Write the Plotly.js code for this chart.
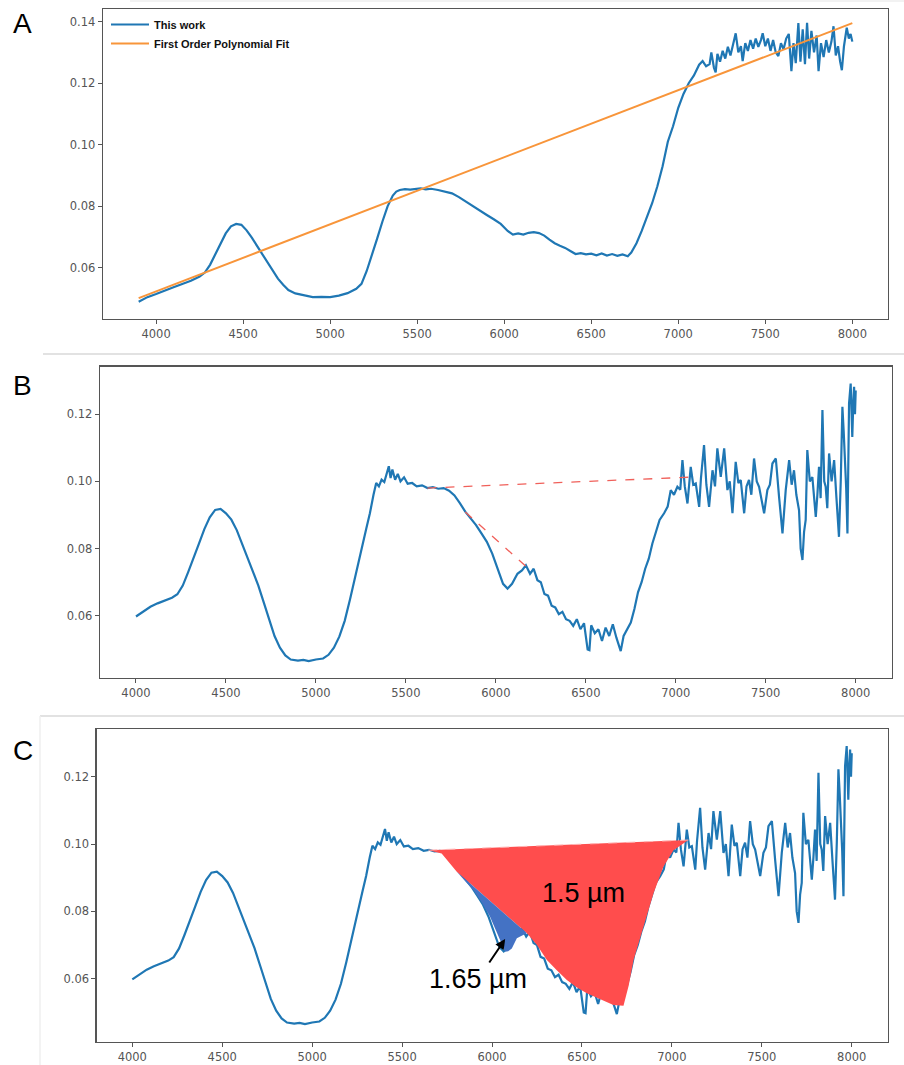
<!DOCTYPE html>
<html>
<head>
<meta charset="utf-8">
<script src="https://cdn.plot.ly/plotly-3.0.1.min.js"></script>
<style>
html,body{margin:0;padding:0;background:#fff;}
#chart{width:904px;height:1065px;}
</style>
</head>
<body>
<div id="chart"></div>
<script>
// ---------- Panel A: spectrum + first-order fit ----------
const specA_x = [3900,3950,4000,4050,4100,4150,4200,4250,4280,4310,4340,4370,4400,4430,4460,4490,4520,4550,4580,4610,4640,4670,4700,4730,4760,4800,4850,4900,4950,5000,5050,5100,5150,5180,5210,5240,5270,5300,5330,5360,5380,5400,5430,5460,5490,5520,5550,5580,5620,5660,5700,5740,5780,5820,5860,5900,5940,5980,6020,6050,6080,6110,6140,6170,6200,6230,6260,6290,6320,6350,6380,6410,6440,6470,6500,6530,6560,6590,6620,6650,6680,6710,6730,6760,6790,6820,6850,6880,6910,6940,6970,7000,7030,7060,7090,7120,7140,7160,7180,7190,7205,7215,7225,7240,7255,7270,7285,7300,7315,7330,7345,7360,7370,7385,7400,7415,7430,7445,7460,7475,7485,7500,7515,7530,7545,7560,7575,7590,7605,7620,7635,7650,7662,7675,7690,7702,7715,7728,7740,7752,7765,7780,7795,7806,7820,7835,7850,7865,7880,7892,7905,7918,7930,7940,7952,7968,7980,7990,8000];
const specA_y = [0.0490,0.0505,0.0515,0.0527,0.0537,0.0548,0.0558,0.0572,0.0585,0.0610,0.0645,0.0680,0.0712,0.0735,0.0743,0.0740,0.0722,0.0698,0.0672,0.0645,0.0617,0.0590,0.0565,0.0545,0.0528,0.0517,0.0510,0.0505,0.0506,0.0505,0.0510,0.0518,0.0532,0.0548,0.0590,0.0640,0.0695,0.0750,0.0800,0.0835,0.0848,0.0853,0.0856,0.0854,0.0857,0.0858,0.0855,0.0857,0.0853,0.0848,0.0842,0.0830,0.0815,0.0800,0.0785,0.0772,0.0758,0.0743,0.0720,0.0708,0.0712,0.0708,0.0714,0.0716,0.0713,0.0705,0.0692,0.0680,0.0672,0.0665,0.0655,0.0645,0.0648,0.0644,0.0646,0.0641,0.0647,0.0640,0.0645,0.0639,0.0644,0.0638,0.0650,0.0680,0.0720,0.0765,0.0810,0.0865,0.0930,0.1010,0.1060,0.1120,0.1165,0.1200,0.1225,0.1260,0.1272,0.1255,0.1262,0.1300,0.1250,0.1235,0.1295,0.1270,0.1305,0.1280,0.1318,0.1290,0.1325,0.1362,0.1300,0.1320,0.1272,0.1330,0.1305,0.1340,0.1312,0.1345,0.1318,0.1340,0.1362,0.1320,0.1345,0.1305,0.1340,0.1300,0.1288,0.1330,0.1310,0.1345,0.1360,0.1239,0.1330,0.1265,0.1395,0.1270,0.1375,0.1262,0.1396,0.1280,0.1370,0.1300,0.1355,0.1239,0.1330,0.1285,0.1340,0.1300,0.1335,0.1385,0.1290,0.1320,0.1270,0.1242,0.1320,0.1380,0.1345,0.1360,0.1335];
const fitA_x = [3900, 8000];
const fitA_y = [0.0502, 0.1395];

// ---------- Panels B and C: continuum-removed spectrum ----------
const specB_x = [4000,4040,4080,4120,4160,4200,4230,4260,4290,4320,4350,4380,4410,4440,4470,4500,4530,4560,4590,4620,4650,4680,4710,4740,4770,4800,4830,4860,4900,4930,4960,5000,5040,5070,5100,5130,5160,5190,5220,5250,5280,5300,5320,5335,5350,5365,5380,5395,5405,5415,5425,5440,5455,5470,5490,5510,5535,5560,5590,5620,5650,5680,5710,5740,5770,5800,5830,5860,5890,5920,5950,5980,6010,6040,6065,6090,6120,6145,6167,6190,6210,6231,6250,6270,6290,6310,6330,6350,6370,6390,6410,6430,6450,6470,6490,6510,6520,6530,6550,6570,6590,6610,6630,6650,6670,6694,6710,6730,6750,6770,6790,6810,6830,6850,6870,6890,6910,6935,6955,6972,6990,7009,7025,7037,7050,7065,7083,7097,7111,7130,7140,7157,7170,7185,7204,7218,7231,7250,7269,7287,7300,7315,7333,7348,7361,7380,7393,7407,7420,7435,7450,7463,7477,7491,7509,7523,7537,7556,7574,7593,7611,7630,7644,7657,7670,7685,7694,7704,7713,7722,7731,7745,7759,7778,7787,7796,7805,7815,7825,7833,7842,7852,7866,7880,7893,7907,7917,7926,7933,7939,7947,7954,7960,7963,7972,7978,7981,7987,7991,7996,8000];
const specB_y = [0.0598,0.0612,0.0627,0.0637,0.0646,0.0654,0.0664,0.0690,0.0730,0.0770,0.0815,0.0858,0.0893,0.0915,0.0918,0.0905,0.0886,0.0855,0.0815,0.0775,0.0735,0.0690,0.0640,0.0590,0.0540,0.0505,0.0482,0.0470,0.0467,0.0469,0.0465,0.0470,0.0473,0.0484,0.0505,0.0538,0.0585,0.0650,0.0725,0.0790,0.0860,0.0905,0.0960,0.0995,0.0985,0.1005,0.0998,0.1030,0.1045,0.1010,0.1035,0.1005,0.1022,0.1000,0.1012,0.0993,0.0995,0.0985,0.0988,0.0980,0.0983,0.0978,0.0980,0.0972,0.0958,0.0935,0.0910,0.0890,0.0870,0.0845,0.0820,0.0785,0.0740,0.0695,0.0681,0.0695,0.0725,0.0735,0.0750,0.0725,0.0740,0.0706,0.0700,0.0665,0.0660,0.0630,0.0625,0.0605,0.0612,0.0590,0.0585,0.0570,0.0590,0.0560,0.0578,0.0500,0.0498,0.0572,0.0548,0.0560,0.0525,0.0565,0.0540,0.0575,0.0535,0.0495,0.0540,0.0560,0.0580,0.0620,0.0670,0.0700,0.0740,0.0770,0.0815,0.0850,0.0885,0.0905,0.0925,0.0974,0.0960,0.0984,0.0975,0.1063,0.0985,0.0934,0.1043,0.0990,0.0994,0.0924,0.1010,0.1108,0.0990,0.0924,0.1033,0.0985,0.1098,0.1013,0.1098,0.0974,0.1000,0.0905,0.1058,0.0995,0.1004,0.0905,0.0985,0.1004,0.0960,0.1068,0.1000,0.0984,0.0940,0.0905,0.0974,0.0990,0.1053,0.1068,0.0954,0.0845,0.0974,0.1063,0.0990,0.1033,0.0960,0.0914,0.0800,0.0766,0.0850,0.0885,0.1093,0.1000,0.1013,0.0894,0.0960,0.1043,0.0950,0.1212,0.1000,0.0984,0.0920,0.1083,0.1000,0.1063,0.0950,0.0835,0.1004,0.1222,0.1150,0.1083,0.0980,0.0845,0.1150,0.1232,0.1291,0.1180,0.1132,0.1240,0.1281,0.1200,0.1270];

// continuum lines (red dashed) in B and C
const cont15_x = [5620, 7105];
const cont15_y = [0.0980, 0.1013];
const cont165_x = [5830, 6170];
const cont165_y = [0.0909, 0.0746];

// band areas in C
const band15Top_x = [5646, 7092];
const band15Top_y = [0.0982, 0.1012];
const band15Bot_x = [5646,5720,5804,6194,6250,6305,6360,6416,6470,6527,6600,6675,6731,6760,6787,6842,6898,6953,7009,7092];
const band15Bot_y = [0.0982,0.0972,0.0918,0.0735,0.0700,0.0656,0.0625,0.0596,0.0575,0.0557,0.0540,0.0522,0.0520,0.0580,0.0656,0.0755,0.0854,0.0933,0.0982,0.1012];
const band165Top_x = [5804, 6194];
const band165Top_y = [0.0918, 0.0735];
const band165Bot_x = [5804,5850,5897,5945,5989,6020,6045,6073,6090,6110,6138,6165,6194];
const band165Bot_y = [0.0918,0.0890,0.0864,0.0825,0.0784,0.0745,0.0715,0.0680,0.0682,0.0690,0.0720,0.0728,0.0735];

const ticksX = [4000,4500,5000,5500,6000,6500,7000,7500,8000];
const ticksYA = [0.06,0.08,0.10,0.12,0.14];
const ticksYB = [0.06,0.08,0.10,0.12];

const labelsBand = ['1.5 µm', '1.65 µm'];
const legendNames = ['This work', 'First Order Polynomial Fit'];

// ---------- build ----------
const W = 904, H = 1065;
const BLUE = '#1f77b4', ORANGE = '#f8953a', RED = '#ff4d4d', BANDBLUE = '#4472c4', DASH = '#f0605a';

function poly(tx, ty, bx, by) {
  return {x: tx.concat(bx.slice().reverse()), y: ty.concat(by.slice().reverse())};
}
const p15 = poly(band15Top_x, band15Top_y, band15Bot_x, band15Bot_y);
const p165 = poly(band165Top_x, band165Top_y, band165Bot_x, band165Bot_y);

const traces = [
  {x: specA_x, y: specA_y, xaxis:'x', yaxis:'y', mode:'lines', name:'<b>'+legendNames[0]+'</b>', line:{color:BLUE, width:2.2}},
  {x: fitA_x, y: fitA_y, xaxis:'x', yaxis:'y', mode:'lines', name:'<b>'+legendNames[1]+'</b>', line:{color:ORANGE, width:2}},

  {x: specB_x, y: specB_y, xaxis:'x2', yaxis:'y2', mode:'lines', showlegend:false, line:{color:BLUE, width:2.2}},
  {x: cont15_x, y: cont15_y, xaxis:'x2', yaxis:'y2', mode:'lines', showlegend:false, line:{color:DASH, width:1.3, dash:'dash'}},
  {x: cont165_x, y: cont165_y, xaxis:'x2', yaxis:'y2', mode:'lines', showlegend:false, line:{color:DASH, width:1.3, dash:'dash'}},

  {x: specB_x, y: specB_y, xaxis:'x3', yaxis:'y3', mode:'lines', showlegend:false, line:{color:BLUE, width:2.2}},
  {x: p15.x, y: p15.y, xaxis:'x3', yaxis:'y3', mode:'lines', fill:'toself', fillcolor:RED, showlegend:false, line:{width:0, color:RED}},
  {x: p165.x, y: p165.y, xaxis:'x3', yaxis:'y3', mode:'lines', fill:'toself', fillcolor:BANDBLUE, showlegend:false, line:{width:0, color:BANDBLUE}},
  {x: band15Top_x, y: band15Top_y, xaxis:'x3', yaxis:'y3', mode:'lines', showlegend:false, line:{color:'#ffb3b3', width:1, dash:'dash'}}
];

function px(v){ return v / W; }
function py(v){ return 1 - v / H; }

const axisBase = {
  showline:true, mirror:true, linecolor:'#555', linewidth:1.3,
  ticks:'outside', ticklen:4, tickwidth:1, tickcolor:'#555',
  showgrid:false, zeroline:false,
  tickfont:{family:'DejaVu Sans', size:11.5, color:'#555'}
};

const layout = {
  width: W, height: H,
  margin:{l:0, r:0, t:0, b:0},
  paper_bgcolor:'#fff', plot_bgcolor:'#fff',
  showlegend:true,
  legend:{x:px(106), y:py(10), xanchor:'left', yanchor:'top', bgcolor:'rgba(0,0,0,0)',
          font:{family:'Liberation Sans', size:11, color:'#111'}, itemwidth:38, tracegroupgap:0},
  xaxis: Object.assign({}, axisBase, {domain:[px(103), px(888)], range:[3695, 8205], tickvals:ticksX, anchor:'y'}),
  yaxis: Object.assign({}, axisBase, {domain:[py(319), py(9)], range:[0.0434, 0.1441], tickvals:ticksYA, tickformat:'.2f', anchor:'x'}),
  xaxis2: Object.assign({}, axisBase, {domain:[px(100), px(891.7)], range:[3800, 8200], tickvals:ticksX, anchor:'y2'}),
  yaxis2: Object.assign({}, axisBase, {domain:[py(678), py(366.7)], range:[0.0415, 0.1341], tickvals:ticksYB, tickformat:'.2f', anchor:'x2'}),
  xaxis3: Object.assign({}, axisBase, {domain:[px(96.7), px(887.7)], range:[3802, 8200], tickvals:ticksX, anchor:'y3'}),
  yaxis3: Object.assign({}, axisBase, {domain:[py(1041.7), py(729.3)], range:[0.0413, 0.1341], tickvals:ticksYB, tickformat:'.2f', anchor:'x3'}),
  shapes: [
    {type:'line', xref:'paper', yref:'paper', x0:px(43), x1:1, y0:py(354), y1:py(354), line:{color:'#e2e2e2', width:2}},
    {type:'line', xref:'paper', yref:'paper', x0:px(40), x1:1, y0:py(716), y1:py(716), line:{color:'#e2e2e2', width:2}},
    {type:'line', xref:'paper', yref:'paper', x0:px(40), x1:px(40), y0:py(716), y1:0, line:{color:'#efefef', width:1.5}},
    {type:'line', xref:'paper', yref:'paper', x0:px(130), x1:1, y0:py(1), y1:py(1), line:{color:'#eeeeee', width:1.5}}
  ],
  annotations: [
    {xref:'paper', yref:'paper', x:px(22.5), y:py(23.5), text:'A', showarrow:false, xanchor:'center', yanchor:'middle', font:{family:'Liberation Sans', size:28, color:'#000'}},
    {xref:'paper', yref:'paper', x:px(22.5), y:py(385), text:'B', showarrow:false, xanchor:'center', yanchor:'middle', font:{family:'Liberation Sans', size:28, color:'#000'}},
    {xref:'paper', yref:'paper', x:px(23), y:py(750), text:'C', showarrow:false, xanchor:'center', yanchor:'middle', font:{family:'Liberation Sans', size:28, color:'#000'}},
    {xref:'x3', yref:'y3', x:6507, y:0.0855, text:labelsBand[0], showarrow:false, xanchor:'center', yanchor:'middle', font:{family:'Liberation Sans', size:27, color:'#000'}},
    {xref:'x3', yref:'y3', x:6073, y:0.0718, text:labelsBand[1], showarrow:true, ax:-27, ay:40,
     arrowhead:2, arrowsize:1, arrowwidth:2, arrowcolor:'#000', standoff:0,
     font:{family:'Liberation Sans', size:27, color:'#000'}}
  ]
};

Plotly.newPlot('chart', traces, layout, {displayModeBar:false, staticPlot:true});
</script>
</body>
</html>
